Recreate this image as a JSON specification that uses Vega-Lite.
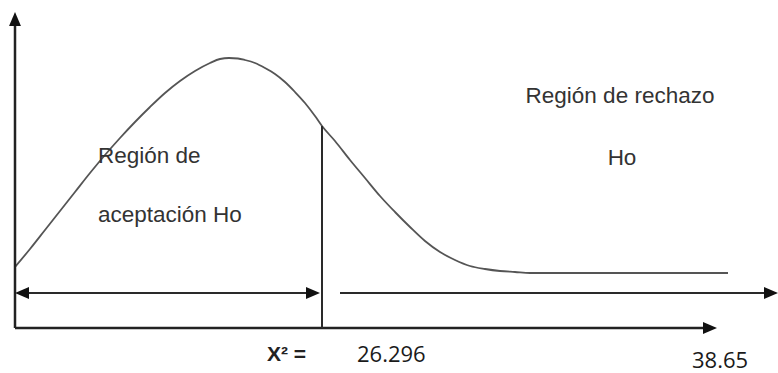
{
  "$schema": "https://vega.github.io/schema/vega-lite/v6.json",
  "width": 778,
  "height": 373,
  "padding": 0,
  "autosize": {"type": "fit", "contains": "padding"},
  "background": "white",
  "config": {"view": {"stroke": null}},
  "datasets": {
    "curve": [
      {"x": 15, "y": 106}, {"x": 30, "y": 124}, {"x": 45, "y": 143}, {"x": 60, "y": 162},
      {"x": 75, "y": 181}, {"x": 90, "y": 200}, {"x": 105, "y": 218}, {"x": 120, "y": 235},
      {"x": 135, "y": 251}, {"x": 150, "y": 266}, {"x": 165, "y": 280}, {"x": 180, "y": 292},
      {"x": 195, "y": 302}, {"x": 210, "y": 310}, {"x": 220, "y": 314}, {"x": 229, "y": 315},
      {"x": 238, "y": 314.5}, {"x": 245, "y": 313}, {"x": 255, "y": 310}, {"x": 265, "y": 305},
      {"x": 275, "y": 299}, {"x": 285, "y": 291}, {"x": 295, "y": 281}, {"x": 305, "y": 270},
      {"x": 315, "y": 257}, {"x": 322, "y": 247}, {"x": 335, "y": 232}, {"x": 350, "y": 213},
      {"x": 365, "y": 195}, {"x": 380, "y": 177}, {"x": 395, "y": 161}, {"x": 410, "y": 146},
      {"x": 425, "y": 132}, {"x": 440, "y": 121}, {"x": 455, "y": 113}, {"x": 470, "y": 107},
      {"x": 485, "y": 104}, {"x": 500, "y": 102}, {"x": 515, "y": 101}, {"x": 530, "y": 100},
      {"x": 560, "y": 100}, {"x": 728, "y": 100}
    ],
    "axes": [
      {"name": "yaxis", "x": 15, "y": 45, "x2": 15, "y2": 355},
      {"name": "xaxis", "x": 15, "y": 45, "x2": 706, "y2": 45}
    ],
    "guides": [
      {"name": "critical", "x": 322, "y": 45, "x2": 322, "y2": 247},
      {"name": "accept", "x": 22, "y": 80, "x2": 313, "y2": 80},
      {"name": "reject", "x": 340, "y": 80, "x2": 772, "y2": 80}
    ],
    "heads": [
      {"x": 710, "y": 45, "angle": 0},
      {"x": 771, "y": 80, "angle": 0},
      {"x": 22, "y": 80, "angle": 180},
      {"x": 313, "y": 80, "angle": 0},
      {"x": 15, "y": 354, "angle": 270}
    ],
    "labelsCenter": [
      {"label": "Región de rechazo", "x": 620, "y": 270},
      {"label": "Ho", "x": 622, "y": 208}
    ],
    "labelsLeft": [
      {"label": "Región de", "x": 98, "y": 210},
      {"label": "aceptación Ho", "x": 98, "y": 151}
    ],
    "chi": [
      {"label": "X² =", "x": 267, "y": 12}
    ],
    "numbers": [
      {"label": "26.296", "x": 357, "y": 11},
      {"label": "38.65", "x": 692, "y": 5}
    ]
  },
  "layer": [
    {
      "data": {"name": "curve"},
      "mark": {"type": "line", "interpolate": "monotone", "color": "#555555", "strokeWidth": 1.8},
      "encoding": {
        "x": {"field": "x", "type": "quantitative", "scale": {"domain": [0, 778], "nice": false, "zero": false}, "axis": null},
        "y": {"field": "y", "type": "quantitative", "scale": {"domain": [0, 373], "nice": false, "zero": false}, "axis": null}
      }
    },
    {
      "data": {"name": "axes"},
      "mark": {"type": "rule", "color": "#222222", "strokeWidth": 2.5},
      "encoding": {
        "x": {"field": "x", "type": "quantitative"},
        "y": {"field": "y", "type": "quantitative"},
        "x2": {"field": "x2"},
        "y2": {"field": "y2"}
      }
    },
    {
      "data": {"name": "guides"},
      "mark": {"type": "rule", "color": "#2a2a2a", "strokeWidth": 2},
      "encoding": {
        "x": {"field": "x", "type": "quantitative"},
        "y": {"field": "y", "type": "quantitative"},
        "x2": {"field": "x2"},
        "y2": {"field": "y2"}
      }
    },
    {
      "data": {"name": "heads"},
      "mark": {"type": "point", "shape": "M1,0L-1,-0.85L-1,0.85Z", "filled": true, "color": "#111111", "opacity": 1, "size": 196},
      "encoding": {
        "x": {"field": "x", "type": "quantitative"},
        "y": {"field": "y", "type": "quantitative"},
        "angle": {"field": "angle", "type": "quantitative", "scale": null}
      }
    },
    {
      "data": {"name": "labelsCenter"},
      "mark": {"type": "text", "align": "center", "baseline": "alphabetic", "font": "Liberation Sans", "fontSize": 22.5, "color": "#333333"},
      "encoding": {
        "x": {"field": "x", "type": "quantitative"},
        "y": {"field": "y", "type": "quantitative"},
        "text": {"field": "label"}
      }
    },
    {
      "data": {"name": "labelsLeft"},
      "mark": {"type": "text", "align": "left", "baseline": "alphabetic", "font": "Liberation Sans", "fontSize": 22.5, "color": "#333333"},
      "encoding": {
        "x": {"field": "x", "type": "quantitative"},
        "y": {"field": "y", "type": "quantitative"},
        "text": {"field": "label"}
      }
    },
    {
      "data": {"name": "chi"},
      "mark": {"type": "text", "align": "left", "baseline": "alphabetic", "font": "Liberation Sans", "fontSize": 21, "fontWeight": "bold", "color": "#222222"},
      "encoding": {
        "x": {"field": "x", "type": "quantitative"},
        "y": {"field": "y", "type": "quantitative"},
        "text": {"field": "label"}
      }
    },
    {
      "data": {"name": "numbers"},
      "mark": {"type": "text", "align": "left", "baseline": "alphabetic", "font": "Open Sans", "fontSize": 22, "color": "#1a1a1a"},
      "encoding": {
        "x": {"field": "x", "type": "quantitative"},
        "y": {"field": "y", "type": "quantitative"},
        "text": {"field": "label"}
      }
    }
  ]
}
